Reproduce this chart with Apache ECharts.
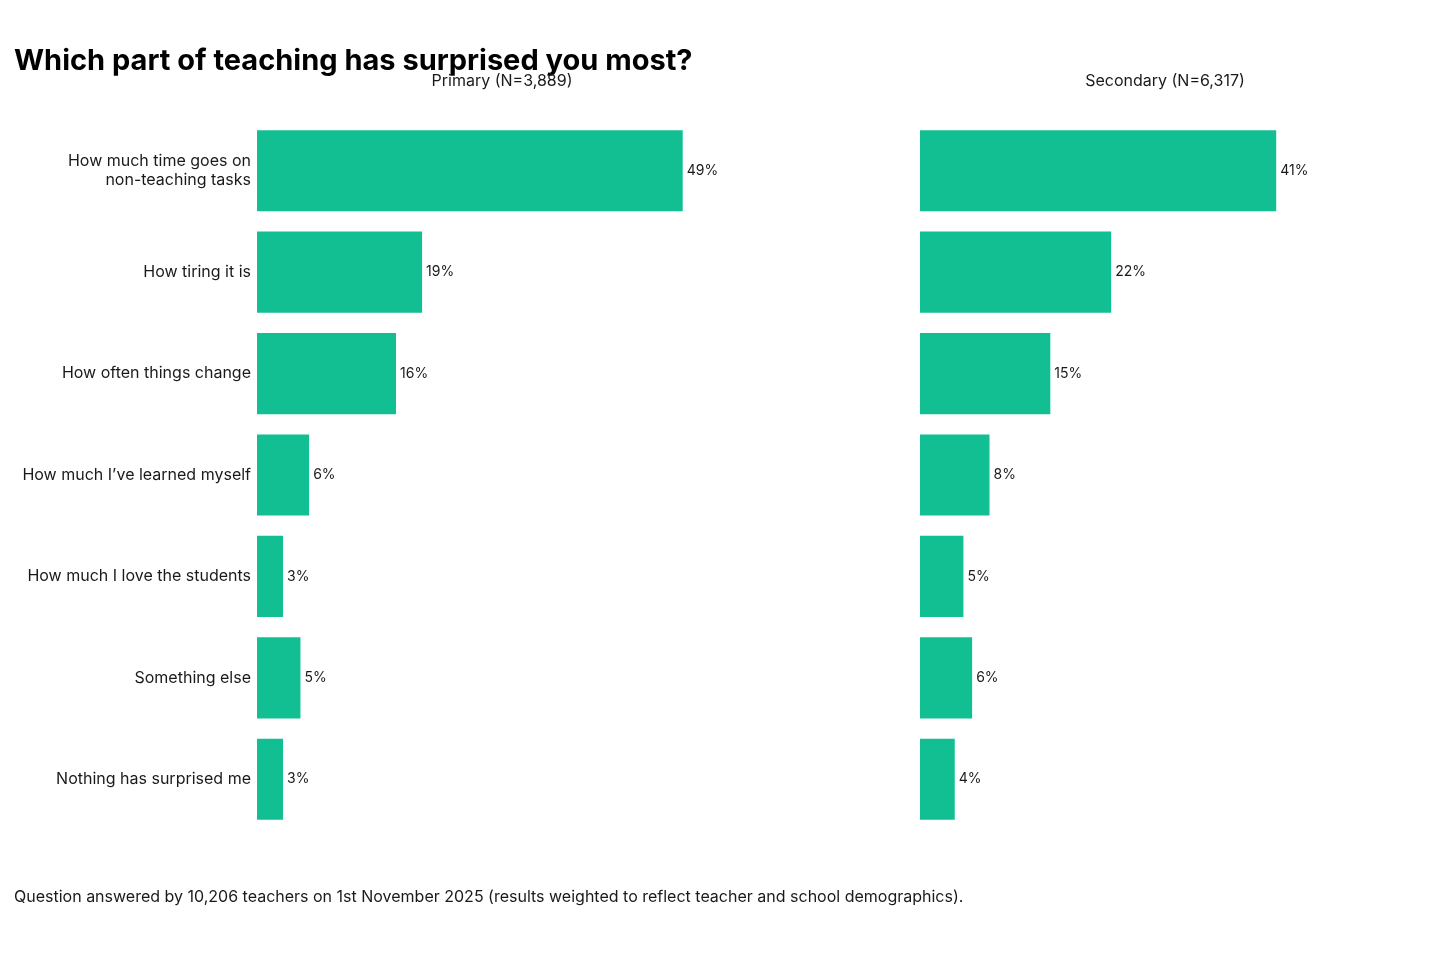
<!DOCTYPE html>
<html>
<head>
<meta charset="utf-8">
<script src="https://cdn.jsdelivr.net/npm/echarts@6/dist/echarts.min.js"></script>
<style>
html,body{margin:0;padding:0;background:#fff;}
#chart{width:1440px;height:960px;}
</style>
</head>
<body>
<div id="chart"></div>
<script>
const categories = [
  "How much time goes on\nnon-teaching tasks",
  "How tiring it is",
  "How often things change",
  "How much I\u2019ve learned myself",
  "How much I love the students",
  "Something else",
  "Nothing has surprised me"
];
const primaryValues = [49, 19, 16, 6, 3, 5, 3];
const secondaryValues = [41, 22, 15, 8, 5, 6, 4];
const panelTitles = ["Primary (N=3,889)", "Secondary (N=6,317)"];
const chartTitle = "Which part of teaching has surprised you most?";
const footnote = "Question answered by 10,206 teachers on 1st November 2025 (results weighted to reflect teacher and school demographics).";

const FONT = "Inter, 'Noto Sans', sans-serif";
const BAR = "#12BF92";
const TXT = "#1a1a1a";
const AXMAX = 56.4;

const chart = echarts.init(document.getElementById('chart'));
const grids = [
  {left: 257, top: 120, width: 490, height: 710},
  {left: 920, top: 120, width: 490, height: 710}
];
function yAx(i, showLabels){
  return {
    type: 'category', gridIndex: i, data: categories, inverse: true,
    axisLine: {show: false}, axisTick: {show: false}, splitLine: {show: false},
    axisLabel: {show: showLabels, fontSize: 16, color: TXT, fontFamily: FONT, margin: 6, lineHeight: 19, align: 'right', padding: [4, 0, 0, 0]}
  };
}
function xAx(i){
  return {type: 'value', gridIndex: i, min: 0, max: AXMAX, show: false, splitLine: {show: false}};
}
function ser(i, vals){
  return {
    type: 'bar', xAxisIndex: i, yAxisIndex: i, data: vals,
    barCategoryGap: '20%', itemStyle: {color: BAR},
    label: {show: true, position: 'right', distance: 4, formatter: p => p.value + '%', fontSize: 14, color: TXT, fontFamily: FONT},
    silent: true, animation: false
  };
}
chart.setOption({
  animation: false,
  backgroundColor: '#ffffff',
  title: [
    {text: chartTitle, left: 14, top: 47, padding: 0, textStyle: {fontSize: 29, fontWeight: 'bold', color: '#000', fontFamily: FONT}},
    {text: panelTitles[0], left: 502, top: 73, padding: 0, textAlign: 'center', textStyle: {fontSize: 16, fontWeight: 'normal', color: TXT, fontFamily: FONT}},
    {text: panelTitles[1], left: 1165, top: 73, padding: 0, textAlign: 'center', textStyle: {fontSize: 16, fontWeight: 'normal', color: TXT, fontFamily: FONT}},
    {text: footnote, left: 14, top: 889, padding: 0, textStyle: {fontSize: 16, fontWeight: 'normal', color: TXT, fontFamily: FONT}}
  ],
  grid: grids,
  xAxis: [xAx(0), xAx(1)],
  yAxis: [yAx(0, true), yAx(1, false)],
  series: [ser(0, primaryValues), ser(1, secondaryValues)]
});
</script>
</body>
</html>
